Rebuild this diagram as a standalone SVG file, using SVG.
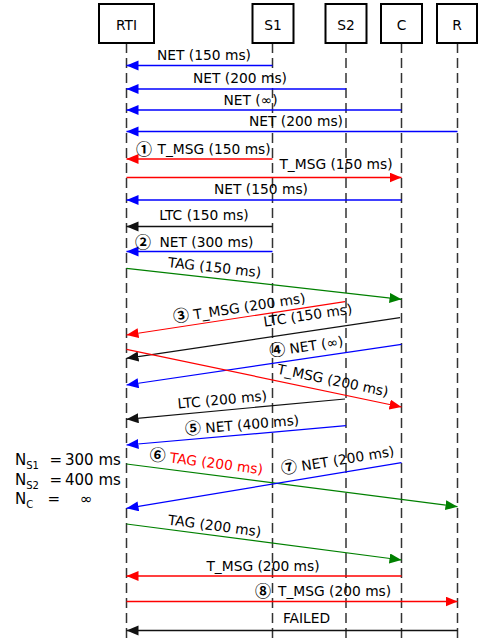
<svg xmlns="http://www.w3.org/2000/svg" width="478" height="643" viewBox="0 0 478 643">
<defs>
<marker id="ab" markerUnits="userSpaceOnUse" markerWidth="13" markerHeight="11" refX="12" refY="5" orient="auto"><path d="M0,0 L12,5 L0,10 z" fill="#0000ff"/></marker>
<marker id="ar" markerUnits="userSpaceOnUse" markerWidth="13" markerHeight="11" refX="12" refY="5" orient="auto"><path d="M0,0 L12,5 L0,10 z" fill="#ff0000"/></marker>
<marker id="ag" markerUnits="userSpaceOnUse" markerWidth="13" markerHeight="11" refX="12" refY="5" orient="auto"><path d="M0,0 L12,5 L0,10 z" fill="#008000"/></marker>
<marker id="ak" markerUnits="userSpaceOnUse" markerWidth="13" markerHeight="11" refX="12" refY="5" orient="auto"><path d="M0,0 L12,5 L0,10 z" fill="#111"/></marker>
</defs>
<style>
text{font-family:"DejaVu Sans",Verdana,sans-serif;font-size:13.8px;fill:#000}
.box{fill:#fff;stroke:#000;stroke-width:2}
.life{stroke:#333;stroke-width:1.5;stroke-dasharray:10,5;fill:none}
.h{stroke-width:1.5;fill:none}
.d{stroke-width:1.2;fill:none}
.b{stroke:#0000ff}.r{stroke:#ff0000}.g{stroke:#008000}.k{stroke:#111}
.mb{marker-end:url(#ab)}.mr{marker-end:url(#ar)}.mg{marker-end:url(#ag)}.mk{marker-end:url(#ak)}
.m{text-anchor:middle}
.n{font-family:"Noto Sans CJK JP","DejaVu Sans",sans-serif;font-size:16px;font-weight:bold}
.left{font-size:15px}
.sub{font-size:10px}
</style>
<g id="lifelines">
<line class="life" x1="126.5" y1="43" x2="126.5" y2="643"/>
<line class="life" x1="272.5" y1="43" x2="272.5" y2="643"/>
<line class="life" x1="346" y1="43" x2="346" y2="643"/>
<line class="life" x1="401.5" y1="43" x2="401.5" y2="643"/>
<line class="life" x1="457.5" y1="43" x2="457.5" y2="643"/>
</g>
<g id="RTI"><rect class="box" x="99" y="4" width="55" height="39"/><text class="m" x="126.5" y="29.5">RTI</text></g>
<g id="S1"><rect class="box" x="252.5" y="4" width="41" height="39"/><text class="m" x="273" y="29.5">S1</text></g>
<g id="S2"><rect class="box" x="325.5" y="4" width="41" height="39"/><text class="m" x="346" y="29.5">S2</text></g>
<g id="C"><rect class="box" x="381" y="4" width="41" height="39"/><text class="m" x="401.5" y="29.5">C</text></g>
<g id="R"><rect class="box" x="437" y="4" width="40" height="39"/><text class="m" x="457" y="29.5">R</text></g>
<g id="connectors">
<line class="h b mb" x1="272.5" y1="65.5" x2="126.5" y2="65.5"/>
<line class="h b mb" x1="346" y1="89" x2="126.5" y2="89"/>
<line class="h b mb" x1="401.5" y1="110" x2="126.5" y2="110"/>
<line class="h b mb" x1="457.5" y1="131.5" x2="126.5" y2="131.5"/>
<line class="h r mr" x1="272.5" y1="159" x2="126.5" y2="159"/>
<line class="h r mr" x1="126.5" y1="177.5" x2="401.5" y2="177.5"/>
<line class="h b mb" x1="401.5" y1="200" x2="126.5" y2="200"/>
<line class="h k mk" x1="272.5" y1="226.5" x2="126.5" y2="226.5"/>
<line class="h b mb" x1="272.5" y1="251.5" x2="126.5" y2="251.5"/>
<line class="d g mg" x1="126.5" y1="268.3" x2="401.5" y2="299.3"/>
<line class="d r mr" x1="345" y1="301.7" x2="126.5" y2="335"/>
<line class="d k mk" x1="400" y1="317.7" x2="126.5" y2="358.3"/>
<line class="d b mb" x1="401.5" y1="344.3" x2="126.5" y2="385"/>
<line class="d r mr" x1="126.5" y1="349.3" x2="401.5" y2="407"/>
<line class="d k mk" x1="345" y1="399" x2="126.5" y2="419.3"/>
<line class="d b mb" x1="346" y1="425.7" x2="126.5" y2="445"/>
<line class="d g mg" x1="126.5" y1="464" x2="457.5" y2="506.7"/>
<line class="d b mb" x1="401.5" y1="462.7" x2="126.5" y2="508.3"/>
<line class="d g mg" x1="126.5" y1="524" x2="401.5" y2="560"/>
<line class="h r mr" x1="401.5" y1="576" x2="126.5" y2="576"/>
<line class="h r mr" x1="126.5" y1="601.5" x2="457.5" y2="601.5"/>
<line class="h k mk" x1="457.5" y1="630.5" x2="126.5" y2="630.5"/>
</g>
<g id="labels">
<text class="m" x="204" y="60">NET (150 ms)</text>
<text class="m" x="240" y="83">NET (200 ms)</text>
<text class="m" x="250.5" y="105">NET (∞)</text>
<text class="m" x="296" y="126">NET (200 ms)</text>
<text x="136" y="154.5"><tspan class="n">①</tspan><tspan x="157.5" y="154">T_MSG (150 ms)</tspan></text>
<text class="m" x="336" y="169.3">T_MSG (150 ms)</text>
<text class="m" x="261" y="194">NET (150 ms)</text>
<text class="m" x="204" y="220">LTC (150 ms)</text>
<text x="135" y="247.5"><tspan class="n">②</tspan><tspan x="159.5" y="247">NET (300 ms)</tspan></text>
<text class="m" transform="translate(214,272.2) rotate(6.43)">TAG (150 ms)</text>
<text class="m" transform="translate(240,312.6) rotate(-8.63)"><tspan class="n">③</tspan> T_MSG (200 ms)</text>
<text class="m" transform="translate(308.5,320.1) rotate(-8.4)">LTC (150 ms)</text>
<text class="m" transform="translate(307,351.2) rotate(-8.42)"><tspan class="n">④</tspan> NET (∞)</text>
<text class="m" transform="translate(332,385) rotate(11.85)">T_MSG (200 ms)</text>
<text class="m" transform="translate(222.7,404.5) rotate(-5.28)">LTC (200 ms)</text>
<text class="m" transform="translate(242.5,429.7) rotate(-5.02)"><tspan class="n">⑤</tspan> NET (400 ms)</text>
<text class="m" transform="translate(205.7,467) rotate(7.35)"><tspan class="n">⑥</tspan> <tspan fill="#ff0000">TAG (200 ms)</tspan></text>
<text class="m" transform="translate(338.5,465) rotate(-9.41)"><tspan class="n">⑦</tspan> NET (200 ms)</text>
<text class="m" transform="translate(214,530.5) rotate(7.46)">TAG (200 ms)</text>
<text class="m" x="263" y="570.7">T_MSG (200 ms)</text>
<text x="255" y="596.5"><tspan class="n">⑧</tspan><tspan x="278" y="596">T_MSG (200 ms)</tspan></text>
<text class="m" x="306.5" y="623.3">FAILED</text>
</g>
<g id="legend">
<text class="left" x="15" y="465">N<tspan class="sub" dy="4">S1</tspan></text>
<text class="left" x="49.5" y="465">=</text>
<text class="left" x="65" y="465">300 ms</text>
<text class="left" x="15" y="484.5">N<tspan class="sub" dy="4">S2</tspan></text>
<text class="left" x="49.5" y="484.5">=</text>
<text class="left" x="65" y="484.5">400 ms</text>
<text class="left" x="15" y="503.5">N<tspan class="sub" dy="4">C</tspan></text>
<text class="left" x="47.5" y="503.5">=</text>
<text class="left" x="80" y="503.5">∞</text>
</g>
</svg>
